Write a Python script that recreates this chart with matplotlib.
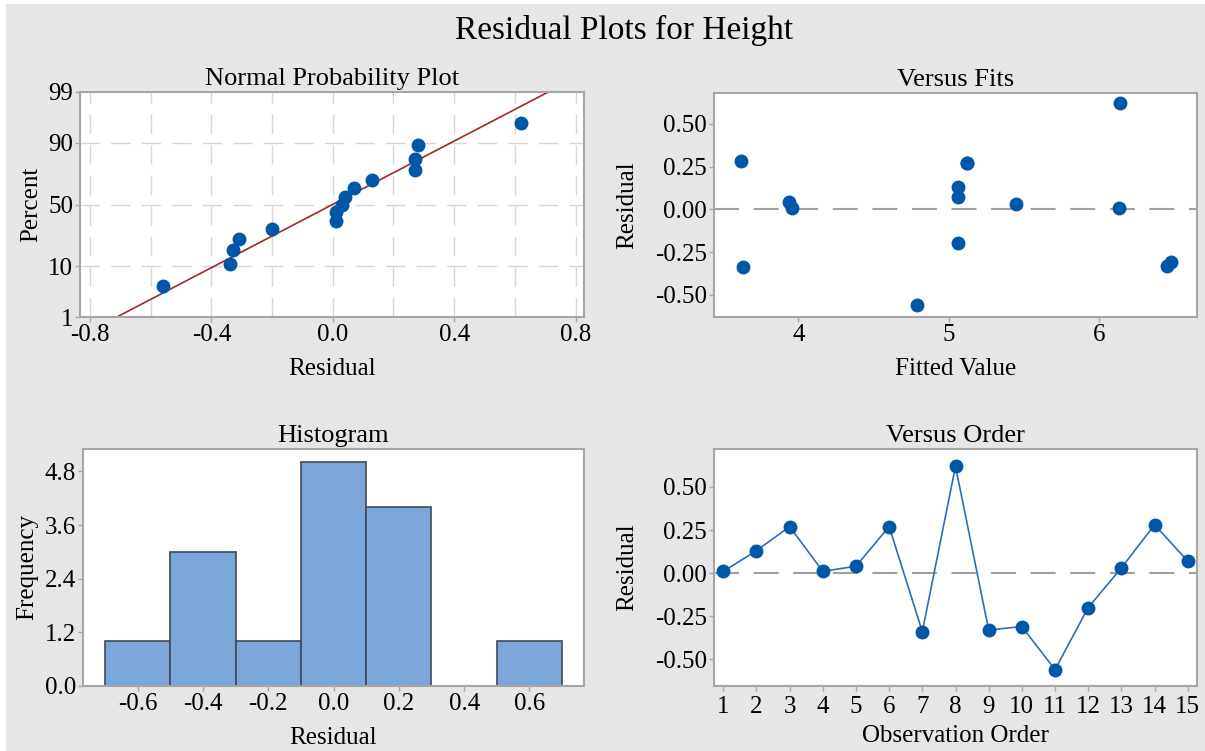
import numpy as np
import matplotlib
matplotlib.use('Agg')
import matplotlib.pyplot as plt
from matplotlib.patches import Rectangle
from statistics import NormalDist

# Residual plots for Height (Minitab style four-in-one)

residuals = [0.01, 0.13, 0.27, 0.01, 0.04, 0.27, -0.34, 0.62, -0.33, -0.31,
             -0.56, -0.20, 0.03, 0.28, 0.07]
fitted = [3.96, 5.06, 5.12, 6.13, 3.94, 5.12, 3.63, 6.14, 6.45, 6.48,
          4.79, 5.06, 5.45, 3.62, 5.06]
order = list(range(1, 16))
pct_ticks = [1, 10, 50, 90, 99]
hist_edges = [-0.7, -0.5, -0.3, -0.1, 0.1, 0.3, 0.5, 0.7]

plt.rcParams['font.family'] = ['Liberation Serif', 'DejaVu Serif']
plt.rcParams['axes.unicode_minus'] = False

W, H = 1205, 751
fig = plt.figure(figsize=(W / 100, H / 100), dpi=100)
fig.patch.set_facecolor('white')
fig.add_artist(Rectangle((6 / W, 0), 1, 747 / H, transform=fig.transFigure,
                         facecolor='#E6E6E6', edgecolor='none', zorder=-1))

def px_axes(left, right, top, bottom):
    return fig.add_axes([left / W, (H - bottom) / H, (right - left) / W, (bottom - top) / H])

dot = '#0057A8'
spine_c = '#A6A6A6'
fs = 18

def style(ax):
    ax.set_facecolor('white')
    for s in ax.spines.values():
        s.set_color(spine_c)
        s.set_linewidth(1.5)
    ax.tick_params(direction='out', length=3.5, width=1, color=spine_c,
                   labelsize=fs, pad=1.5)

nd = NormalDist()

# Normal probability plot
ax1 = px_axes(80, 584, 92, 317)
style(ax1)
r = np.sort(np.array(residuals))
n = len(r)
ranks = (np.arange(1, n + 1) - 0.3) / (n + 0.4)
z = np.array([nd.inv_cdf(p) for p in ranks])
mu, sd = r.mean(), r.std(ddof=1)
xl = np.linspace(-0.9, 0.9, 50)
ax1.plot(xl, (xl - mu) / sd, color='#A3282B', lw=1.2, zorder=2)
ax1.plot(r, z, 'o', color=dot, ms=9, zorder=3)
ax1.set_xlim(-0.833, 0.828)
ax1.set_ylim(nd.inv_cdf(0.01), nd.inv_cdf(0.99))
ax1.set_xticks([-0.8, -0.4, 0.0, 0.4, 0.8])
ax1.set_xticks([-0.6, -0.2, 0.2, 0.6], minor=True)
ax1.set_xticklabels(['%.1f' % v for v in [-0.8, -0.4, 0.0, 0.4, 0.8]])
ax1.set_yticks([nd.inv_cdf(p / 100) for p in pct_ticks])
ax1.set_yticklabels([str(p) for p in pct_ticks])
ax1.tick_params(axis='x', which='minor', length=0)
for v in [-0.8, -0.6, -0.4, -0.2, 0.0, 0.2, 0.4, 0.6, 0.8]:
    ax1.axvline(v, color='#D6D6D6', lw=1, dashes=(14, 8), zorder=1)
for p in [10, 50, 90]:
    ax1.axhline(nd.inv_cdf(p / 100), color='#D6D6D6', lw=1, dashes=(14, 8), zorder=1)
ax1.set_title('Normal Probability Plot', fontsize=19, pad=5)
ax1.set_xlabel('Residual', fontsize=fs, labelpad=9)
ax1.set_ylabel('Percent', fontsize=fs, labelpad=4)

# Versus fits
ax2 = px_axes(714, 1197, 93, 317)
style(ax2)
ax2.axhline(0, color='#A0A0A0', lw=1.5, dashes=(12, 7), zorder=1)
ax2.plot(fitted, residuals, 'o', color=dot, ms=9, zorder=3)
ax2.set_xlim(3.44, 6.65)
ax2.set_ylim(-0.63, 0.68)
ax2.set_xticks([4, 5, 6])
ax2.set_yticks([-0.5, -0.25, 0, 0.25, 0.5])
ax2.set_yticklabels(['%.2f' % v for v in [-0.5, -0.25, 0, 0.25, 0.5]])
ax2.set_title('Versus Fits', fontsize=19, pad=5)
ax2.set_xlabel('Fitted Value', fontsize=fs, labelpad=9)
ax2.set_ylabel('Residual', fontsize=fs, labelpad=12)

# Histogram
ax3 = px_axes(83, 584, 449, 686)
style(ax3)
ax3.hist(residuals, bins=hist_edges, color='#7BA6DA', edgecolor='#3F4A55', linewidth=1.2, zorder=2)
ax3.set_xlim(-0.767, 0.767)
ax3.set_ylim(0, 5.3)
ax3.set_xticks([-0.6, -0.4, -0.2, 0.0, 0.2, 0.4, 0.6])
ax3.set_xticklabels(['%.1f' % v for v in [-0.6, -0.4, -0.2, 0.0, 0.2, 0.4, 0.6]])
ax3.set_yticks([0, 1.2, 2.4, 3.6, 4.8])
ax3.set_yticklabels(['%.1f' % v for v in [0, 1.2, 2.4, 3.6, 4.8]])
ax3.set_title('Histogram', fontsize=19, pad=5)
ax3.set_xlabel('Residual', fontsize=fs, labelpad=9)
ax3.set_ylabel('Frequency', fontsize=fs, labelpad=5)

# Versus order
ax4 = px_axes(714, 1197, 449, 686)
style(ax4)
ax4.axhline(0, color='#A0A0A0', lw=1.5, dashes=(12, 7), zorder=1)
ax4.plot(order, residuals, '-o', color='#2F6DB5', mfc=dot, mec=dot, lw=1.2, ms=9, zorder=3)
ax4.set_xlim(0.72, 15.28)
ax4.set_ylim(-0.655, 0.72)
ax4.set_xticks(order)
ax4.tick_params(axis='x', pad=4)
ax4.set_yticks([-0.5, -0.25, 0, 0.25, 0.5])
ax4.set_yticklabels(['%.2f' % v for v in [-0.5, -0.25, 0, 0.25, 0.5]])
ax4.set_title('Versus Order', fontsize=19, pad=5)
ax4.set_xlabel('Observation Order', fontsize=fs, labelpad=5)
ax4.set_ylabel('Residual', fontsize=fs, labelpad=12)

fig.text(623.7 / W, 1 - 30 / H, 'Residual Plots for Height', fontsize=24,
         ha='center', va='center')

fig.savefig('out.png', dpi=100)
